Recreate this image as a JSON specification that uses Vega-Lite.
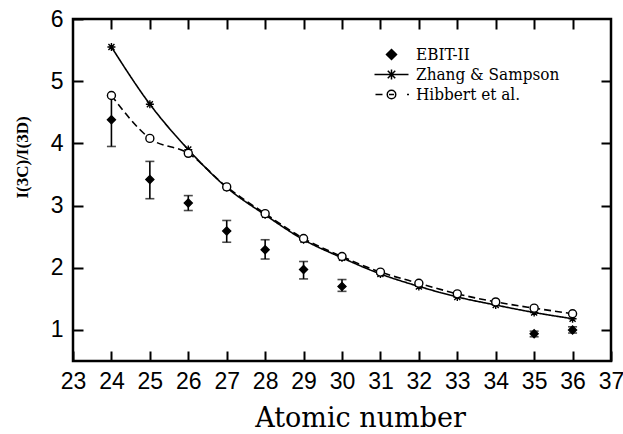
{
  "$schema": "https://vega.github.io/schema/vega-lite/v6.json",
  "width": 538,
  "height": 342,
  "autosize": {"type": "none"},
  "padding": {"left": 73, "top": 19, "right": 12, "bottom": 73},
  "background": "white",
  "config": {
    "view": {"stroke": "black", "strokeWidth": 2.5},
    "axis": {
      "grid": false,
      "domain": false,
      "tickColor": "black",
      "tickWidth": 2,
      "tickSize": 10,
      "offset": -10,
      "labelFlush": false,
      "labelColor": "black",
      "titleColor": "black",
      "labelFont": "Liberation Sans",
      "labelFontSize": 23,
      "titleFont": "DejaVu Serif",
      "titleFontWeight": "normal",
      "zindex": 1
    },
    "legend": {
      "orient": "none",
      "legendX": 310,
      "legendY": 27,
      "symbolSize": 100,
      "symbolOpacity": 1,
      "labelFont": "DejaVu Serif Condensed, DejaVu Serif",
      "labelFontSize": 17,
      "labelColor": "black",
      "labelOffset": 16,
      "rowPadding": 2,
      "padding": 0
    }
  },
  "data": {
    "values": [
      {"z": 24, "series": "Zhang & Sampson", "value": 5.55},
      {"z": 25, "series": "Zhang & Sampson", "value": 4.63},
      {"z": 26, "series": "Zhang & Sampson", "value": 3.9},
      {"z": 27, "series": "Zhang & Sampson", "value": 3.29},
      {"z": 28, "series": "Zhang & Sampson", "value": 2.85},
      {"z": 29, "series": "Zhang & Sampson", "value": 2.45},
      {"z": 30, "series": "Zhang & Sampson", "value": 2.16},
      {"z": 31, "series": "Zhang & Sampson", "value": 1.9},
      {"z": 32, "series": "Zhang & Sampson", "value": 1.7},
      {"z": 33, "series": "Zhang & Sampson", "value": 1.53},
      {"z": 34, "series": "Zhang & Sampson", "value": 1.4},
      {"z": 35, "series": "Zhang & Sampson", "value": 1.28},
      {"z": 36, "series": "Zhang & Sampson", "value": 1.18},
      {"z": 24, "series": "Hibbert et al.", "value": 4.77},
      {"z": 25, "series": "Hibbert et al.", "value": 4.08},
      {"z": 26, "series": "Hibbert et al.", "value": 3.84},
      {"z": 27, "series": "Hibbert et al.", "value": 3.3},
      {"z": 28, "series": "Hibbert et al.", "value": 2.87},
      {"z": 29, "series": "Hibbert et al.", "value": 2.47},
      {"z": 30, "series": "Hibbert et al.", "value": 2.18},
      {"z": 31, "series": "Hibbert et al.", "value": 1.93},
      {"z": 32, "series": "Hibbert et al.", "value": 1.75},
      {"z": 33, "series": "Hibbert et al.", "value": 1.58},
      {"z": 34, "series": "Hibbert et al.", "value": 1.45},
      {"z": 35, "series": "Hibbert et al.", "value": 1.35},
      {"z": 36, "series": "Hibbert et al.", "value": 1.26},
      {"z": 24, "series": "EBIT-II", "value": 4.38, "lo": 3.95, "hi": 4.77},
      {"z": 25, "series": "EBIT-II", "value": 3.42, "lo": 3.11, "hi": 3.71},
      {"z": 26, "series": "EBIT-II", "value": 3.04, "lo": 2.92, "hi": 3.16},
      {"z": 27, "series": "EBIT-II", "value": 2.59, "lo": 2.41, "hi": 2.76},
      {"z": 28, "series": "EBIT-II", "value": 2.29, "lo": 2.14, "hi": 2.45},
      {"z": 29, "series": "EBIT-II", "value": 1.97, "lo": 1.82, "hi": 2.1},
      {"z": 30, "series": "EBIT-II", "value": 1.7, "lo": 1.62, "hi": 1.81},
      {"z": 35, "series": "EBIT-II", "value": 0.94, "lo": 0.89, "hi": 0.98},
      {"z": 36, "series": "EBIT-II", "value": 1.0, "lo": 0.95, "hi": 1.05}
    ]
  },
  "layer": [
    {
      "transform": [{"filter": "datum.series !== 'EBIT-II'"}],
      "mark": {"type": "line", "interpolate": "monotone", "color": "black", "strokeWidth": 1.6},
      "encoding": {
        "x": {
          "field": "z", "type": "quantitative",
          "scale": {"domain": [23, 37], "nice": false, "zero": false},
          "axis": {
            "values": [23, 24, 25, 26, 27, 28, 29, 30, 31, 32, 33, 34, 35, 36, 37],
            "labelPadding": 9,
            "title": "Atomic number",
            "titleFontSize": 27,
            "titleColor": "black",
            "titleX": 287,
            "titleY": 75,
            "titleBaseline": "alphabetic",
            "titleAlign": "center",
            "titleAnchor": null
          }
        },
        "y": {
          "field": "value", "type": "quantitative",
          "scale": {"domain": [0.5, 6], "nice": false, "zero": false},
          "axis": {
            "values": [1, 2, 3, 4, 5, 6],
            "labelPadding": 10,
            "title": "I(3C)/I(3D)",
            "titleFont": "Liberation Serif",
            "titleFontSize": 17,
            "titleFontWeight": "bold",
            "titleColor": "black",
            "titleX": -61,
            "titleY": 138,
            "titleAngle": -90,
            "titleBaseline": "middle",
            "titleAlign": "center",
            "titleAnchor": null
          }
        },
        "strokeDash": {
          "field": "series", "type": "nominal",
          "scale": {"domain": ["Zhang & Sampson", "Hibbert et al."], "range": [[1, 0], [7, 4]]},
          "legend": null
        }
      }
    },
    {
      "transform": [{"filter": "datum.series === 'EBIT-II'"}],
      "mark": {"type": "errorbar", "ticks": {"size": 9, "thickness": 1.6, "color": "black"}, "rule": {"strokeWidth": 1.6, "color": "black"}},
      "encoding": {
        "x": {"field": "z", "type": "quantitative", "axis": null},
        "y": {"field": "lo", "type": "quantitative", "axis": null},
        "y2": {"field": "hi"}
      }
    },
    {
      "mark": {"type": "point", "filled": true, "stroke": "black", "strokeWidth": 1.4, "size": 64, "opacity": 1},
      "encoding": {
        "x": {
          "field": "z", "type": "quantitative",
          "axis": {"orient": "top", "labels": false, "title": null, "values": [24, 25, 26, 27, 28, 29, 30, 31, 32, 33, 34, 35, 36]}
        },
        "y": {
          "field": "value", "type": "quantitative",
          "axis": {"orient": "right", "labels": false, "title": null, "values": [1, 2, 3, 4, 5]}
        },
        "shape": {
          "field": "series", "type": "nominal",
          "scale": {
            "domain": ["EBIT-II", "Zhang & Sampson", "Hibbert et al."],
            "range": ["diamond", "M-1,0L1,0M0,-1L0,1M-0.75,-0.75L0.75,0.75M-0.75,0.75L0.75,-0.75", "circle"]
          },
          "legend": null
        },
        "fill": {
          "field": "series", "type": "nominal",
          "scale": {"domain": ["EBIT-II", "Zhang & Sampson", "Hibbert et al."], "range": ["black", "transparent", "white"]},
          "legend": null
        }
      }
    },
    {
      "mark": {"type": "point", "filled": true, "stroke": "black", "strokeWidth": 1.5, "size": 64, "opacity": 0},
      "encoding": {
        "x": {"field": "z", "type": "quantitative", "axis": null},
        "y": {"field": "value", "type": "quantitative", "axis": null},
        "shape": {
          "field": "series", "type": "nominal",
          "scale": {
            "domain": ["EBIT-II", "Zhang & Sampson", "Hibbert et al."],
            "range": [
              "M0,-1L1,0L0,1L-1,0Z",
              "M-3.4,0L3.4,0M0,-1L0,1M-0.75,-0.75L0.75,0.75M-0.75,0.75L0.75,-0.75",
              "M-3.2,0L-1.8,0M-0.85,0A0.85,0.85 0 1,0 0.85,0A0.85,0.85 0 1,0 -0.85,0M-0.5,0L0.5,0M3.1,0L3.5,0"
            ]
          },
          "legend": {
            "title": null,
            "encode": {
              "symbols": {
                "update": {
                  "opacity": {"value": 1},
                  "stroke": {"value": "black"},
                  "strokeWidth": {"value": 1.5}
                }
              }
            }
          }
        },
        "fill": {
          "field": "series", "type": "nominal",
          "scale": {"domain": ["EBIT-II", "Zhang & Sampson", "Hibbert et al."], "range": ["black", "white", "white"]},
          "legend": {"title": null}
        }
      }
    }
  ],
  "resolve": {
    "axis": {"x": "independent", "y": "independent"},
    "scale": {"shape": "independent", "fill": "independent"},
    "legend": {"shape": "independent", "fill": "independent"}
  }
}
